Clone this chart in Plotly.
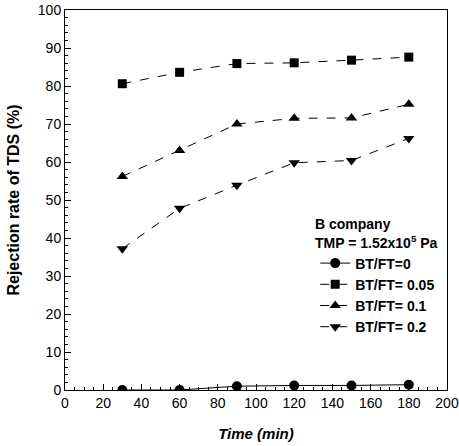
import plotly.graph_objects as go

time_min = [30, 60, 90, 120, 150, 180]
bt0 = [0.0, 0.0, 1.0, 1.2, 1.2, 1.4]
bt005 = [80.6, 83.6, 85.9, 86.1, 86.8, 87.6]
bt01 = [56.2, 63.0, 70.0, 71.5, 71.6, 75.2]
bt02 = [37.2, 47.8, 53.9, 59.8, 60.4, 66.2]

series = [
    ("BT/FT=0", bt0, "circle", 10),
    ("BT/FT= 0.05", bt005, "square", 9),
    ("BT/FT= 0.1", bt01, "triangle-up", 10),
    ("BT/FT= 0.2", bt02, "triangle-down", 10),
]

fig = go.Figure()
for name, vals, sym, sz in series:
    fig.add_trace(go.Scatter(
        x=time_min, y=vals, name="<b>" + name + "</b>", mode="lines+markers",
        line=dict(color="black", width=1, dash="dash" if name != "BT/FT=0" else "solid"),
        marker=dict(symbol=sym, size=sz, color="black"),
    ))

font = "Liberation Sans, Arial, sans-serif"
axis_common = dict(
    showline=True, linecolor="black", linewidth=1, mirror=True, automargin=False,
    ticks="inside", ticklen=6, tickcolor="black", showgrid=False, zeroline=False,
    tickfont=dict(family=font, size=14, color="black"),
    minor=dict(ticks="inside", ticklen=3, tickcolor="black"),
)
fig.update_xaxes(range=[0, 200], dtick=20,
                 title=dict(text="<b><i>Time (min)</i></b>", font=dict(family=font, size=15, color="black"), standoff=18),
                 **axis_common)
fig.update_yaxes(range=[0, 100], dtick=10,
                 title=dict(text="<b>Rejection rate of TDS (%)</b>", font=dict(family=font, size=16, color="black"), standoff=14),
                 **axis_common)

fig.add_annotation(x=130, y=43.6, xref="x", yref="y", xanchor="left", yanchor="middle",
                   text="<b>B company</b>", showarrow=False, font=dict(family=font, size=14, color="black"))
fig.add_annotation(x=130, y=38.9, xref="x", yref="y", xanchor="left", yanchor="middle",
                   text="<b>TMP = 1.52x10<sup>5</sup> Pa</b>", showarrow=False, font=dict(family=font, size=14, color="black"))

fig.update_layout(
    width=459, height=446,
    margin=dict(l=65, r=12, t=10, b=56),
    paper_bgcolor="white", plot_bgcolor="white",
    legend=dict(x=0.655, y=0.375, xanchor="left", yanchor="top", bgcolor="rgba(0,0,0,0)",
                font=dict(family=font, size=14, color="black"), tracegroupgap=0),
    font=dict(family=font, color="black"),
)
fig.write_html("out.html", config={"displayModeBar": False},
               post_script="document.body.style.margin='0';")
